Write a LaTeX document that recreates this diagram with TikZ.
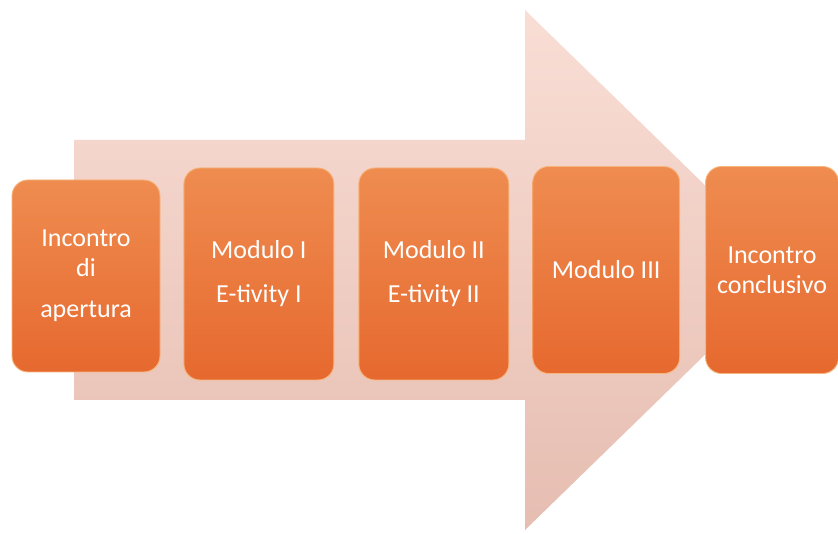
\documentclass[tikz,border=0pt]{standalone}
\usepackage{fontspec}
\setmainfont{Carlito}
\usepackage{tikz}
\usetikzlibrary{positioning}
\definecolor{ArrowTop}{HTML}{F9DED5}
\definecolor{ArrowMid}{HTML}{F4D0C5}
\definecolor{ArrowLow}{HTML}{E6BDB1}
\definecolor{StepTop}{HTML}{EF8C50}
\definecolor{StepMid}{HTML}{EE7A36}
\definecolor{StepLow}{HTML}{E6692F}
\definecolor{StepEdge}{HTML}{F7B57C}

\tikzset{
  stepbox/.style={
    rounded corners=16pt,
    top color=StepTop,
    middle color=StepMid,
    bottom color=StepLow,
    draw=StepEdge,
    line width=0.9pt,
    inner sep=0pt,
    align=center,
    text=white,
    font=\fontsize{26}{30}\selectfont
  }
}

\begin{document}
\begin{tikzpicture}[x=1pt,y=1pt]
    \useasboundingbox (0,0) rectangle (838,533);
    \fill[white] (0,0) rectangle (838,533);

    % big arrow behind the steps
    \coordinate (shaftNW) at (74,393);
    \coordinate (shaftSW) at (74,133);
    \coordinate (headN) at (525,523);
    \coordinate (headS) at (525,3);
    \coordinate (tip) at (792,263);
    \shade[top color=ArrowTop, middle color=ArrowMid, bottom color=ArrowLow]
      (shaftNW) -- (525,393) -- (headN) -- (tip) -- (headS) -- (525,133) -- (shaftSW) -- cycle;

    % the steps
    \node[stepbox, minimum width=148pt, minimum height=192pt] (apertura) at (86,257)
      {Incontro\\ di\\[11pt] apertura};
    \node[stepbox, minimum width=150pt, minimum height=212pt, right=23pt of apertura, yshift=2pt] (moduloI)
      {Modulo I\\[14pt] E-tivity I};
    \node[stepbox, minimum width=150pt, minimum height=212pt, right=24pt of moduloI] (moduloII)
      {Modulo II\\[14pt] E-tivity II};
    \node[stepbox, minimum width=147pt, minimum height=207pt, right=23pt of moduloII, yshift=4pt] (moduloIII)
      {Modulo III};
    \node[stepbox, minimum width=133pt, minimum height=207pt, right=25pt of moduloIII] (conclusivo)
      {Incontro\\ conclusivo};
\end{tikzpicture}
\end{document}
